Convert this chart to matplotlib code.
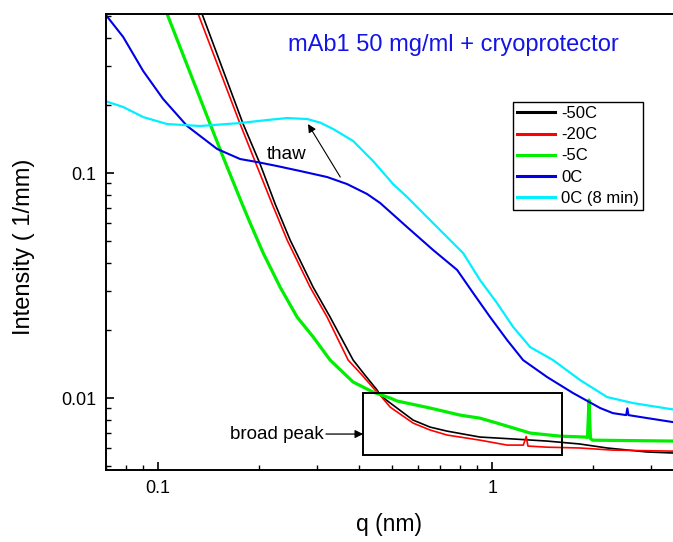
import matplotlib
matplotlib.use("Agg")
import matplotlib.pyplot as plt
from matplotlib.patches import Rectangle

plt.rcParams['font.family'] = ['Liberation Sans', 'DejaVu Sans']

# ---- data ----
q_m50 = [0.125, 0.1354, 0.1797, 0.2020, 0.2241, 0.2484, 0.2911, 0.3273, 0.3836, 0.4163,
         0.4526, 0.462, 0.482, 0.580, 0.652, 0.733, 0.920, 1.156, 1.46, 1.83, 2.21, 2.91, 3.48]
I_m50 = [0.69, 0.5088, 0.1651, 0.1096, 0.0728, 0.0504, 0.0311, 0.0229, 0.01475, 0.01264,
         0.01085, 0.0103, 0.0098, 0.00798, 0.00743, 0.00713, 0.00671, 0.00658, 0.00644,
         0.00625, 0.00600, 0.00576, 0.0057]

q_m20 = [0.122, 0.1318, 0.1760, 0.1965, 0.2195, 0.2433, 0.2851, 0.3206, 0.3706, 0.4081,
         0.4464, 0.462, 0.495, 0.580, 0.652, 0.733, 0.920, 1.109, 1.24, 1.265, 1.28, 1.46,
         1.83, 2.30, 3.48]
I_m20 = [0.69, 0.5088, 0.1651, 0.1096, 0.0728, 0.0504, 0.0311, 0.0229, 0.01475, 0.01264,
         0.01085, 0.0103, 0.00912, 0.00774, 0.00721, 0.00685, 0.00650, 0.00618, 0.00618,
         0.00675, 0.00612, 0.00605, 0.00600, 0.00587, 0.00581]

q_m5 = [0.098, 0.1064, 0.1431, 0.1565, 0.1785, 0.1886, 0.2063, 0.2319, 0.2607, 0.2911,
        0.3273, 0.3836, 0.4402, 0.4951, 0.520, 0.652, 0.802, 0.920, 1.035, 1.30, 1.60,
        1.90, 1.93, 1.95, 1.97, 2.00, 3.48]
I_m5 = [0.68, 0.5088, 0.1651, 0.1178, 0.0728, 0.0599, 0.0441, 0.0311, 0.0229, 0.0187,
        0.01475, 0.01178, 0.01063, 0.0100, 0.0097, 0.00903, 0.00840, 0.00814, 0.00774,
        0.00699, 0.00677, 0.00671, 0.00668, 0.0098, 0.0066, 0.0065, 0.00644]

q_0 = [0.068, 0.0694, 0.0786, 0.0902, 0.1035, 0.1221, 0.1502, 0.1760, 0.1979, 0.2272,
       0.2661, 0.3206, 0.3681, 0.4223, 0.4621, 0.5566, 0.6657, 0.7856, 0.8773, 0.9863,
       1.109, 1.238, 1.461, 1.748, 2.106, 2.30, 2.52, 2.54, 2.56, 2.91, 3.48]
I_0 = [0.53, 0.5088, 0.4022, 0.2840, 0.2133, 0.1618, 0.1279, 0.1154, 0.1119, 0.1074,
       0.1021, 0.0960, 0.0893, 0.0807, 0.0736, 0.0575, 0.0455, 0.0371, 0.0293, 0.0229,
       0.0181, 0.01475, 0.0124, 0.01052, 0.00903, 0.00857, 0.0084, 0.0090, 0.0084,
       0.00815, 0.00782]

q_0b = [0.068, 0.0694, 0.0786, 0.0902, 0.1064, 0.1336, 0.1760, 0.2120, 0.2433, 0.2793,
        0.3056, 0.3342, 0.3836, 0.4402, 0.5054, 0.5566, 0.6843, 0.8186, 0.9206, 1.035,
        1.156, 1.300, 1.522, 1.834, 2.210, 2.644, 3.483]
I_0b = [0.211, 0.2089, 0.1965, 0.1773, 0.1651, 0.1618, 0.1668, 0.1720, 0.1755, 0.1738,
        0.1675, 0.1569, 0.1388, 0.1130, 0.0893, 0.0782, 0.0575, 0.0441, 0.0334, 0.0264,
        0.0207, 0.01685, 0.01475, 0.01202, 0.0101, 0.0095, 0.0089]

series = [
    ("-50C", q_m50, I_m50, "#000000", 1.2),
    ("-20C", q_m20, I_m20, "#ff0000", 1.2),
    ("-5C", q_m5, I_m5, "#00ee00", 2.3),
    ("0C", q_0, I_0, "#0000e6", 1.5),
    ("0C (8 min)", q_0b, I_0b, "#00f0ff", 1.6),
]

title_text = "mAb1 50 mg/ml + cryoprotector"
box_q = (0.411, 1.62)
box_I = (0.00558, 0.01052)

W, H = 673, 542
fig = plt.figure(figsize=(W / 100, H / 100), dpi=100)
ax = fig.add_axes([106 / W, (H - 470) / H, (673 - 106) / W, (470 - 14) / H])

for label, q, I, c, lw in series:
    ax.plot(q, I, color=c, lw=lw, label=label, solid_joinstyle='round')

ax.set_xscale('log')
ax.set_yscale('log')
ax.set_xlim(0.0698, 3.48)
ax.set_ylim(0.00479, 0.509)

ax.set_xticks([0.1, 1])
ax.set_xticklabels(['0.1', '1'])
ax.set_yticks([0.01, 0.1])
ax.set_yticklabels(['0.01', '0.1'])
ax.tick_params(which='both', direction='in', top=False, right=False, colors='black',
               labelsize=13)
ax.tick_params(which='major', length=6, width=1.2, pad=7)
ax.tick_params(which='minor', length=3.5, width=1.0)
for s in ['left', 'bottom', 'top']:
    ax.spines[s].set_linewidth(1.4)
ax.spines['right'].set_visible(False)

ax.set_xlabel('q (nm)', fontsize=16.5)
ax.set_ylabel('Intensity ( 1/mm)', fontsize=17)
ax.xaxis.set_label_coords(0.5, -0.095)
ax.yaxis.set_label_coords(-0.125, 0.49)

ax.add_patch(Rectangle((box_q[0], box_I[0]), box_q[1] - box_q[0], box_I[1] - box_I[0],
                       fill=False, ec='black', lw=1.4, zorder=5))

ax.annotate('', xy=(0.411, 0.00692), xytext=(0.318, 0.00692),
            arrowprops=dict(arrowstyle='-|>', color='black', lw=0.9, mutation_scale=12,
                            shrinkA=0, shrinkB=0))
ax.text(0.314, 0.00692, 'broad peak', ha='right', va='center', fontsize=13.5)

ax.annotate('', xy=(0.281, 0.165), xytext=(0.351, 0.096),
            arrowprops=dict(arrowstyle='-|>', color='black', lw=0.8, mutation_scale=12,
                            shrinkA=0, shrinkB=0))
ax.text(0.243, 0.121, 'thaw', ha='center', va='center', fontsize=13.5)

fig.text(453 / W, 1 - 45 / H, title_text, ha='center', va='center', fontsize=17,
         color='#1414e6')

leg = ax.legend(loc='upper right', bbox_to_anchor=(643 / W, 1 - 102 / H),
                bbox_transform=fig.transFigure, fontsize=12, frameon=True, fancybox=False,
                edgecolor='black', framealpha=1, handlelength=2.3, handletextpad=0.35,
                labelspacing=0.37, borderpad=0.25, borderaxespad=0)
leg.get_frame().set_linewidth(1.0)
for h in leg.get_lines():
    h.set_linewidth(2.2)

fig.savefig('out.png', dpi=100)
